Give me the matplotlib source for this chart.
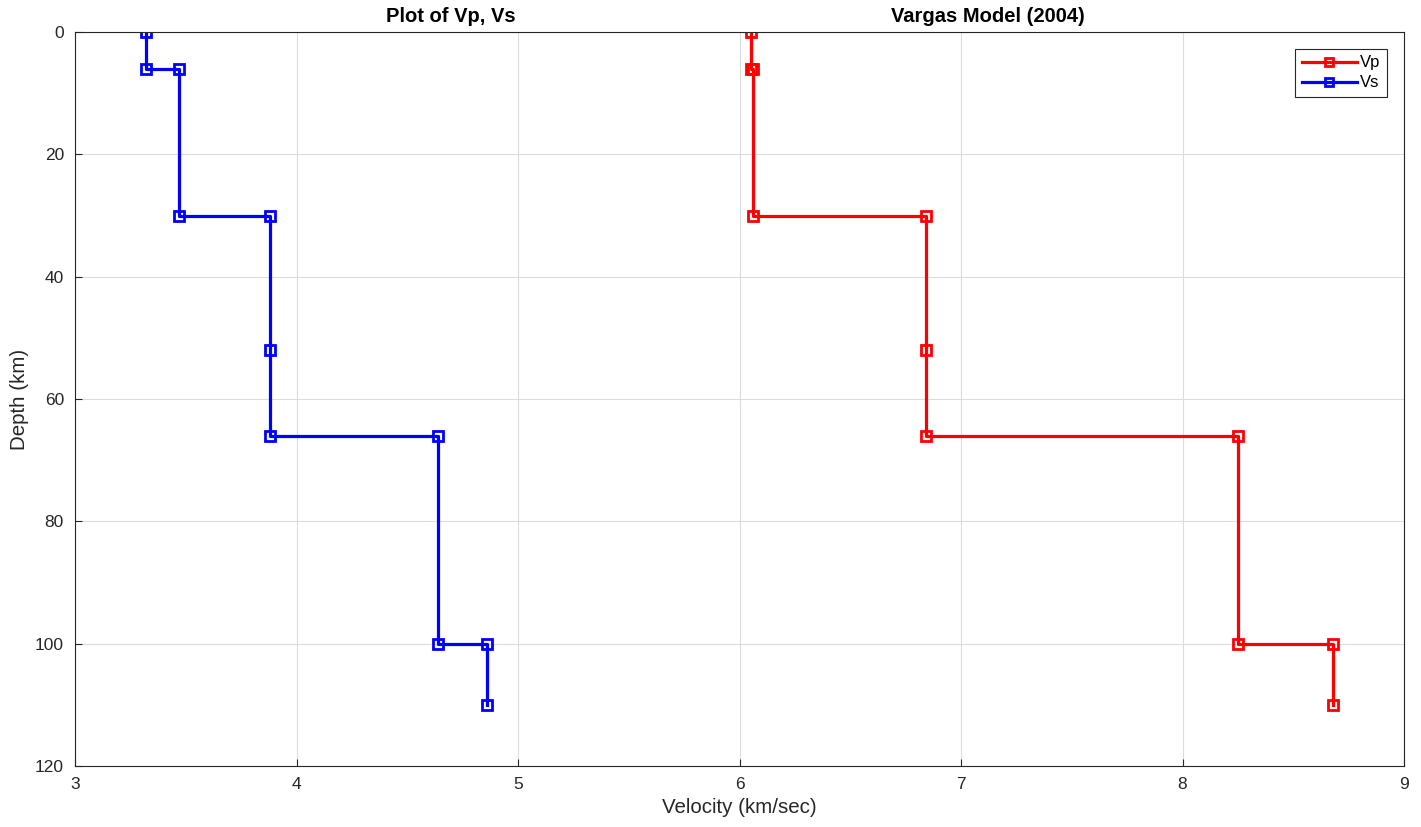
import matplotlib
matplotlib.use('Agg')
import matplotlib.pyplot as plt

plt.rcParams['font.family'] = ['Liberation Sans', 'DejaVu Sans']

# Vargas model (2004) layer velocities, step profile
depth = [0, 6, 6, 30, 30, 52, 66, 66, 100, 100, 110]
vp = [6.05, 6.05, 6.06, 6.06, 6.84, 6.84, 6.84, 8.25, 8.25, 8.68, 8.68]
vs = [3.32, 3.32, 3.47, 3.47, 3.88, 3.88, 3.88, 4.64, 4.64, 4.86, 4.86]

xticks = [3, 4, 5, 6, 7, 8, 9]
yticks = [0, 20, 40, 60, 80, 100, 120]

fig = plt.figure(figsize=(14.21, 8.27), dpi=100)
ax = fig.add_axes([75/1421, 1 - 766/827, (1404-75)/1421, (766-32)/827])

ax.plot(vp, depth, color='red', lw=2.3, marker='s', ms=7.5, mfc='none', mew=2, label='Vp')
ax.plot(vs, depth, color='blue', lw=2.3, marker='s', ms=7.5, mfc='none', mew=2, label='Vs')

ax.set_xlim(3, 9)
ax.set_ylim(120, 0)
ax.set_xticks(xticks)
ax.set_yticks(yticks)
ax.tick_params(direction='in', labelsize=12.5, colors='#262626', length=5, pad=8)
ax.grid(True, color='#dcdcdc', lw=0.8)
ax.set_axisbelow(True)
for s in ax.spines.values():
    s.set_color('#262626')
    s.set_linewidth(0.8)

ax.set_xlabel('Velocity (km/sec)', fontsize=14.8, color='#262626', labelpad=4)
ax.set_ylabel('Depth (km)', fontsize=14.8, color='#262626', labelpad=4)

fig.text(451/1421, 1 - 17/827, 'Plot of Vp, Vs', ha='center', va='center',
         fontsize=14.5, fontweight='bold', color='black')
fig.text(988/1421, 1 - 17/827, 'Vargas Model (2004)', ha='center', va='center',
         fontsize=14.5, fontweight='bold', color='black')

leg = ax.legend(loc='upper right', fontsize=12, fancybox=False, framealpha=1,
                edgecolor='#262626', handlelength=3.3, borderpad=0.4,
                labelspacing=0.3, handletextpad=0.2, borderaxespad=1.0,
                markerscale=0.7)
leg.get_frame().set_linewidth(0.8)

fig.savefig('out.png', dpi=100)
